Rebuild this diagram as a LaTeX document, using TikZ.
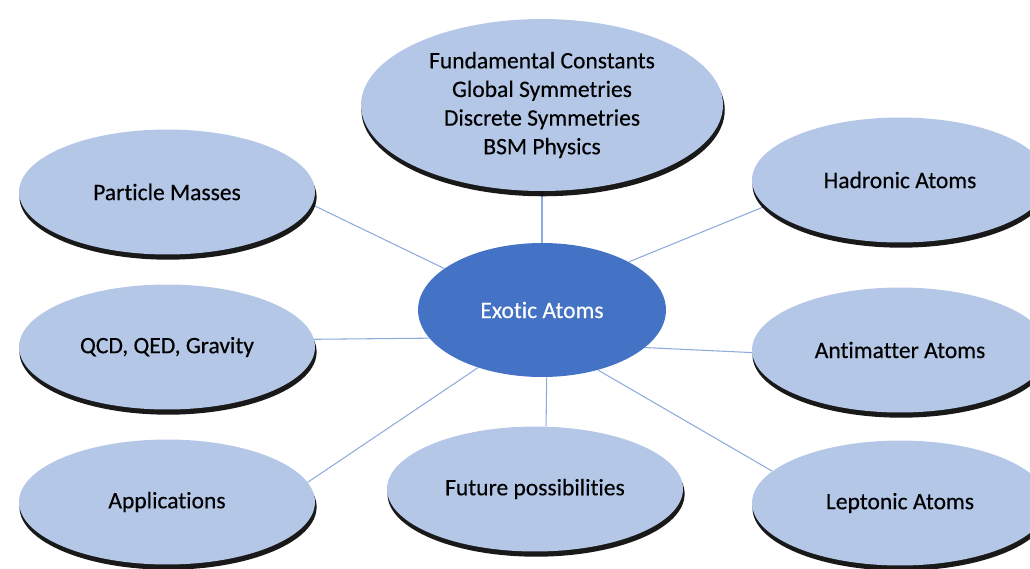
\documentclass[tikz,border=0pt]{standalone}
\usepackage{fontspec}
\setmainfont{Carlito}[Ligatures={NoCommon,NoRare,NoContextual}, FakeBold=0.3]
\usetikzlibrary{shapes.geometric,shadows,backgrounds}

\definecolor{bubble}{HTML}{B4C7E7}
\definecolor{hub}{HTML}{4472C4}
\definecolor{spoke}{HTML}{8FAADC}

\tikzset{
  topic/.style={ellipse, fill=bubble, draw=none, inner sep=0pt,
    minimum width=5.92cm, minimum height=2.5cm, align=center,
    font=\fontsize{13.4}{16.3}\selectfont, text=black,
    drop shadow={shadow xshift=0.6pt, shadow yshift=-2.8pt,
      shadow scale=1.004, fill=black, opacity=0.9}},
  bigtopic/.style={topic, minimum width=7.24cm, minimum height=3.44cm},
  hubnode/.style={ellipse, fill=hub, draw=none, inner sep=0pt,
    minimum width=4.96cm, minimum height=2.68cm,
    font=\fontsize{13.4}{16.3}\selectfont, text=white},
  link/.style={draw=spoke, line width=0.6pt}
}

\begin{document}
\begin{tikzpicture}[x=0.02cm, y=-0.02cm]
  \useasboundingbox (0,0) rectangle (1030,568);
  \clip (0,0) rectangle (1030,568);

  % central hub
  \node[hubnode] (C) at (542,310) {Exotic Atoms};

  % surrounding topics
  \node[bigtopic] (T) at (542,105)
    {Fundamental Constants\\Global Symmetries\\Discrete Symmetries\\BSM Physics};
  \node[topic] (PM) at (167,192) {Particle Masses};
  \node[topic] (Q)  at (167,347) {QCD, QED, Gravity};
  \node[topic] (Ap) at (167,502) {Applications};
  \node[topic] (F)  at (535,489) {Future possibilities};
  \node[topic] (H)  at (900,180) {Hadronic Atoms};
  \node[topic] (A)  at (900,350) {Antimatter Atoms};
  \node[topic] (L)  at (900,503) {Leptonic Atoms};

  % spokes, kept behind the bubbles
  \begin{pgfonlayer}{background}
    \draw[link] (T.south) -- (C.north);
    \draw[link] (PM.-5)   -- (C.157);
    \draw[link] (Q.3)     -- (C.194);
    \draw[link] (Ap.8)    -- (C.222);
    \draw[link] (F.80)    -- (C.274);
    \draw[link] (H.191)   -- (C.29);
    \draw[link] (A.181)   -- (C.-20);
    \draw[link] (L.166.5) -- (C.-47.4);
  \end{pgfonlayer}
\end{tikzpicture}
\end{document}
